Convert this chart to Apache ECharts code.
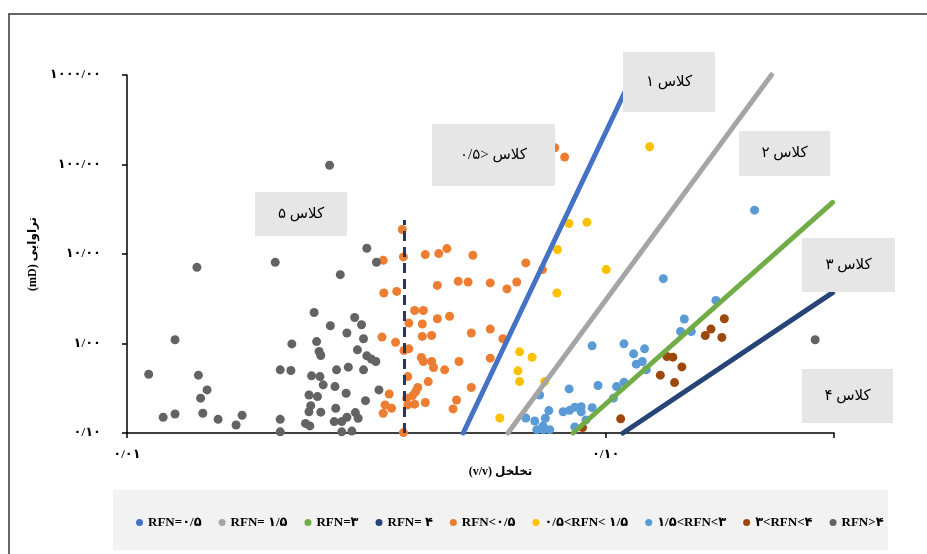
<!DOCTYPE html>
<html>
<head>
    <meta charset="utf-8" />
    <script src="https://cdn.jsdelivr.net/npm/echarts@6/dist/echarts.min.js"></script>
    <title></title>
</head>
<body style="margin:0;background:#fff">
    <div id="main" style="width:927px;height:554px;"></div>

    <script type="text/javascript">

        // axis ticks
        var xTickValues = [0.01, 0.1];
        var xTickLabels = ['۰/۰۱', '۰/۱۰'];
        var yTickValues = [0.1, 1, 10, 100, 1000];
        var yTickLabels = ['۰/۱۰', '۱/۰۰', '۱۰/۰۰', '۱۰۰/۰۰', '۱۰۰۰/۰۰'];

        var seriesNames = ['RFN=۰/۵', 'RFN= ۱/۵', 'RFN=۳', 'RFN= ۴', 'RFN<۰/۵',
            '۰/۵<RFN< ۱/۵', '۱/۵<RFN<۳', '۳<RFN<۴', 'RFN>۴'];

        // RFN lines (end points)
        var rfn05Line = [[0.0504, 0.1], [0.114, 1000]];
        var rfn15Line = [[0.0625, 0.1], [0.222, 1000]];
        var rfn3Line = [[0.0855, 0.1], [0.298, 37.7]];
        var rfn4Line = [[0.1087, 0.1], [0.298, 3.7]];
        var cutLine = [[0.038, 0.1], [0.038, 24]];

        // porosity / permeability points
        var rfnBelow05 = [[0.0376, 18.8], [0.0343, 8.50], [0.0378, 9.28], [0.0420, 9.85], [0.0448, 10.1], [0.0466, 11.5],
            [0.0528, 9.67], [0.0445, 4.46], [0.0492, 4.95], [0.0516, 4.87], [0.0574, 4.75], [0.0622, 4.07], [0.0652, 4.87],
            [0.0344, 3.67], [0.0366, 3.82], [0.0399, 2.34], [0.0416, 2.34], [0.0388, 1.69], [0.0414, 1.65], [0.0445, 1.89],
            [0.0472, 2.01], [0.0341, 1.18], [0.0364, 1.03], [0.0388, 0.872], [0.0379, 0.835], [0.0414, 1.20], [0.0433, 1.23],
            [0.0524, 1.31], [0.0574, 1.45], [0.0610, 1.13], [0.0412, 0.697], [0.0416, 0.629], [0.0433, 0.629], [0.0437, 0.539],
            [0.0461, 0.508], [0.0494, 0.629], [0.0574, 0.686], [0.0386, 0.427], [0.0426, 0.375], [0.0353, 0.273], [0.0405, 0.322],
            [0.0401, 0.290], [0.0395, 0.262], [0.0384, 0.245], [0.0346, 0.206], [0.0357, 0.189], [0.0343, 0.166], [0.0399, 0.210],
            [0.0386, 0.206], [0.0420, 0.219], [0.0524, 0.322], [0.0488, 0.234], [0.0480, 0.186], [0.0378, 0.101], [0.0783, 154],
            [0.0821, 121], [0.0681, 7.95], [0.0738, 6.69]];

        var rfn05to15 = [[0.0838, 21.9], [0.0914, 22.6], [0.0793, 11.2], [0.1003, 6.69], [0.0791, 3.67], [0.0661, 0.807],
            [0.0702, 0.701], [0.0656, 0.495], [0.0661, 0.375], [0.0746, 0.375], [0.0601, 0.147], [0.1236, 158]];

        var rfn15to3 = [[0.2047, 30.9], [0.132, 5.30], [0.170, 3.03], [0.146, 1.88], [0.1434, 1.36], [0.151, 1.36],
            [0.0937, 0.942], [0.1092, 0.992], [0.1206, 0.872], [0.1144, 0.767], [0.1159, 0.588], [0.1193, 0.629],
            [0.1216, 0.508], [0.0839, 0.311], [0.0728, 0.266], [0.0964, 0.339], [0.1054, 0.330], [0.1092, 0.368],
            [0.1038, 0.245], [0.0761, 0.178], [0.0815, 0.173], [0.0841, 0.179], [0.0862, 0.194], [0.0889, 0.197],
            [0.0889, 0.172], [0.0937, 0.192], [0.0681, 0.147], [0.0711, 0.136], [0.0748, 0.146], [0.0740, 0.120],
            [0.0718, 0.109], [0.0741, 0.109], [0.0764, 0.109], [0.0910, 0.140], [0.0862, 0.117]];

        var rfn3to4 = [[0.177, 1.89], [0.166, 1.45], [0.1615, 1.23], [0.1749, 1.17], [0.1343, 0.715], [0.1382, 0.704],
            [0.1443, 0.548], [0.1301, 0.443], [0.1393, 0.366], [0.1075, 0.144], [0.0895, 0.115]];

        var rfnAbove4 = [[0.0265, 98], [0.0140, 7.10], [0.0204, 8.07], [0.0317, 11.6], [0.0332, 8.07], [0.0279, 5.88],
            [0.0126, 1.10], [0.0111, 0.454], [0.0141, 0.443], [0.0147, 0.303], [0.01425, 0.245], [0.0119, 0.150],
            [0.0126, 0.163], [0.0144, 0.166], [0.0155, 0.142], [0.0169, 0.123], [0.0174, 0.158], [0.0209, 0.142],
            [0.0209, 0.103], [0.0221, 0.99], [0.0209, 0.508], [0.0220, 0.499], [0.0246, 2.22], [0.0249, 1.05],
            [0.0252, 0.814], [0.0254, 0.734], [0.0266, 1.58], [0.0243, 0.435], [0.0253, 0.427], [0.0257, 0.345],
            [0.0240, 0.266], [0.0250, 0.255], [0.0242, 0.202], [0.0240, 0.173], [0.0254, 0.171], [0.0236, 0.128],
            [0.0241, 0.120], [0.0272, 0.330], [0.0274, 0.508], [0.0273, 0.189], [0.0271, 0.134], [0.0281, 0.134],
            [0.0288, 0.150], [0.0281, 0.103], [0.0295, 0.105], [0.0287, 0.278], [0.0290, 0.544], [0.0288, 1.31],
            [0.0299, 1.95], [0.0309, 1.62], [0.0312, 1.13], [0.0303, 0.850], [0.0317, 0.728], [0.0324, 0.669],
            [0.0331, 0.629], [0.0312, 0.508], [0.0300, 0.169], [0.0304, 0.146], [0.0315, 0.230], [0.0336, 0.303],
            [0.274, 1.10]];

        var classLabels = ['کلاس ۱', 'کلاس ۲', 'کلاس ۳', 'کلاس ۴', 'کلاس ۵', 'کلاس <۰/۵'];

        var colors = ['#4472C4', '#A5A5A5', '#70AD47', '#264478', '#ED7D31', '#FFC000', '#5B9BD5', '#9E480E', '#636363'];

        var persianFont = '"Liberation Serif", "DejaVu Sans", serif';

        function tickText(values, labels) {
            return function (v) {
                for (var i = 0; i < values.length; i++) {
                    if (Math.abs(Math.log10(v) - Math.log10(values[i])) < 1e-6) {
                        return labels[i];
                    }
                }
                return '';
            };
        }

        function lineSeries(name, data, color) {
            return {
                name: name, type: 'line', data: data, symbol: 'none', clip: false,
                lineStyle: { color: color, width: 5, cap: 'round' },
                itemStyle: { color: color }
            };
        }

        function dotSeries(name, data, color) {
            return {
                name: name, type: 'scatter', data: data, symbolSize: 9,
                itemStyle: { color: color, opacity: 1 }
            };
        }

        // text boxes [x, y, w, h]
        var boxes = [[623, 52, 92, 60], [739, 131, 91, 45], [802, 238, 93, 54], [802, 369, 91, 54], [255, 192, 92, 44], [432, 124, 123, 62]];
        var graphics = [{
            type: 'rect', shape: { x: 113, y: 490, width: 775, height: 60 }, style: { fill: '#f2f2f2' }, z: -1
        }, {
            type: 'rect', shape: { x: 9, y: 14, width: 940, height: 560 }, style: { fill: 'none', stroke: '#333', lineWidth: 1.5 }, z: -1
        }];
        boxes.forEach(function (b, i) {
            graphics.push({ type: 'rect', shape: { x: b[0], y: b[1], width: b[2], height: b[3] }, style: { fill: '#e7e6e6' }, z: 10 });
            graphics.push({
                type: 'text', x: b[0] + b[2] / 2, y: b[1] + b[3] / 2, z: 11,
                style: { text: classLabels[i], fill: '#000', fontSize: 15, fontFamily: persianFont, align: 'center', verticalAlign: 'middle' }
            });
        });

        var myChart = echarts.init(document.getElementById('main'));

        myChart.setOption({
            backgroundColor: '#fff',
            animation: false,
            grid: { left: 127, right: 93, top: 75, bottom: 121 },
            legend: {
                data: seriesNames,
                left: 131, top: 511,
                icon: 'circle', itemWidth: 7, itemHeight: 7, itemGap: 17,
                textStyle: { fontFamily: persianFont, fontWeight: 'bold', fontSize: 13, color: '#000' }
            },
            xAxis: {
                type: 'log', logBase: 10, min: 0.01, max: 0.3,
                name: '(v/v) تخلخل', nameLocation: 'middle', nameGap: 22,
                nameTextStyle: { fontFamily: persianFont, fontWeight: 'bold', fontSize: 12, color: '#000', padding: [0, 0, 0, 40] },
                axisLine: { lineStyle: { color: '#000', width: 1.5 } },
                axisTick: { length: 5, lineStyle: { color: '#000', width: 1.5 } },
                axisLabel: { formatter: tickText(xTickValues, xTickLabels), margin: 15, fontSize: 13, fontWeight: 'bold', color: '#000', fontFamily: persianFont },
                splitLine: { show: false }
            },
            yAxis: {
                type: 'log', logBase: 10, min: 0.1, max: 1000,
                name: '(mD) تراوایی', nameLocation: 'middle', nameGap: 80, nameRotate: 90,
                nameTextStyle: { fontFamily: persianFont, fontWeight: 'bold', fontSize: 12, color: '#000' },
                axisLine: { lineStyle: { color: '#000', width: 1.5 } },
                axisTick: { length: 5, lineStyle: { color: '#000', width: 1.5 } },
                axisLabel: { formatter: tickText(yTickValues, yTickLabels), margin: 26, fontSize: 13, fontWeight: 'bold', color: '#000', fontFamily: persianFont },
                splitLine: { show: false }
            },
            graphic: graphics,
            series: [
                lineSeries(seriesNames[0], rfn05Line, colors[0]),
                lineSeries(seriesNames[1], rfn15Line, colors[1]),
                lineSeries(seriesNames[2], rfn3Line, colors[2]),
                lineSeries(seriesNames[3], rfn4Line, colors[3]),
                {
                    type: 'line', data: cutLine, symbol: 'none', silent: true,
                    lineStyle: { color: '#203864', width: 3, type: [10, 6] }
                },
                dotSeries(seriesNames[4], rfnBelow05, colors[4]),
                dotSeries(seriesNames[5], rfn05to15, colors[5]),
                dotSeries(seriesNames[6], rfn15to3, colors[6]),
                dotSeries(seriesNames[7], rfn3to4, colors[7]),
                dotSeries(seriesNames[8], rfnAbove4, colors[8])
            ]
        });

    </script>
</body>
</html>
